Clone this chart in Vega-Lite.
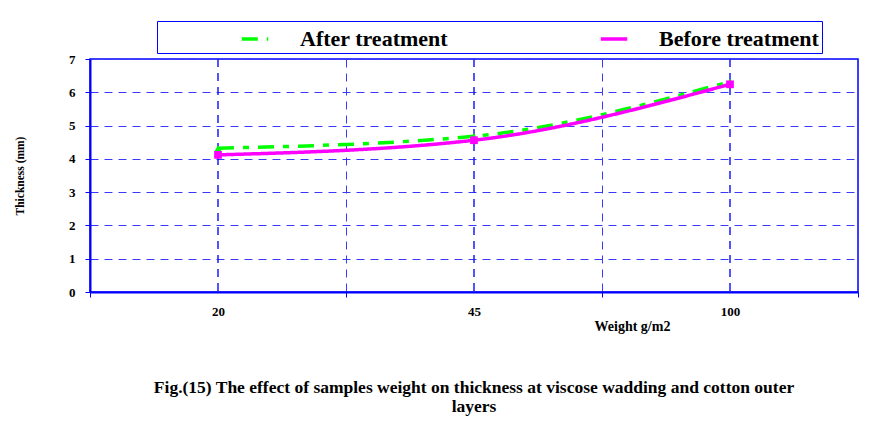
{
  "$schema": "https://vega.github.io/schema/vega-lite/v6.json",
  "width": 768,
  "height": 233,
  "autosize": {"type": "none"},
  "padding": {"left": 90, "top": 59, "right": 25, "bottom": 138},
  "background": "white",
  "title": {
    "text": ["Fig.(15) The effect of samples weight on thickness at viscose wadding and cotton outer", "layers"],
    "orient": "bottom",
    "anchor": "middle",
    "font": "Liberation Serif",
    "fontSize": 17.5,
    "fontWeight": "bold",
    "color": "black",
    "lineHeight": 19,
    "offset": 46
  },
  "data": {
    "values": [
      {"weight": 20, "series": "After treatment", "thickness": 4.32},
      {"weight": 45, "series": "After treatment", "thickness": 4.68},
      {"weight": 100, "series": "After treatment", "thickness": 6.32},
      {"weight": 20, "series": "Before treatment", "thickness": 4.12},
      {"weight": 45, "series": "Before treatment", "thickness": 4.56},
      {"weight": 100, "series": "Before treatment", "thickness": 6.24}
    ]
  },
  "encoding": {
    "x": {
      "field": "weight",
      "type": "ordinal",
      "scale": {"type": "band", "paddingInner": 0, "paddingOuter": 0},
      "axis": {
        "title": "Weight g/m2",
        "titleX": 542,
        "titleY": 27,
        "titleBaseline": "top",
        "titleAlign": "center",
        "tickBand": "extent",
        "labelAngle": 0,
        "labelPadding": 8,
        "grid": true
      }
    },
    "y": {
      "field": "thickness",
      "type": "quantitative",
      "scale": {"domain": [0, 7]},
      "axis": {
        "title": "Thickness (mm)",
        "values": [0, 1, 2, 3, 4, 5, 6, 7],
        "labelOverlap": false,
        "labelFlush": false,
        "titleX": -70,
        "titleY": 116.5,
        "titleAlign": "center",
        "titleBaseline": "middle",
        "grid": true
      }
    }
  },
  "layer": [
    {
      "mark": {"type": "rule", "color": "#1a1aff", "strokeDash": [8, 6], "strokeWidth": 1},
      "encoding": {"y": null}
    },
    {
      "mark": {"type": "line", "interpolate": "monotone", "strokeWidth": 3.5},
      "encoding": {
        "color": {
          "field": "series",
          "type": "nominal",
          "scale": {"domain": ["After treatment", "Before treatment"], "range": ["#00ff00", "#ff00ff"]},
          "legend": {"orient": "none", "legendX": 67, "legendY": -38, "direction": "horizontal", "title": null, "symbolType": "stroke"}
        },
        "strokeDash": {
          "field": "series",
          "type": "nominal",
          "scale": {"domain": ["After treatment", "Before treatment"], "range": [[16, 9, 6, 9], [1, 0]]},
          "legend": {"orient": "none", "legendX": 67, "legendY": -38, "direction": "horizontal", "title": null, "symbolType": "stroke"}
        }
      }
    },
    {
      "transform": [{"filter": "datum.series === 'After treatment'"}],
      "mark": {"type": "point", "shape": "triangle-up", "filled": true, "color": "#00ff00", "size": 45, "opacity": 1}
    },
    {
      "transform": [{"filter": "datum.series === 'Before treatment'"}],
      "mark": {"type": "point", "shape": "square", "filled": true, "color": "#ff00ff", "size": 60, "opacity": 1}
    }
  ],
  "config": {
    "view": {"stroke": "#0000ff", "strokeWidth": 1.5},
    "axis": {
      "labelFont": "Liberation Serif",
      "labelFontWeight": "bold",
      "labelFontSize": 13,
      "labelColor": "black",
      "titleFont": "Liberation Serif",
      "titleFontWeight": "bold",
      "titleColor": "black",
      "domainColor": "#0000ff",
      "domainWidth": 2,
      "tickColor": "#0000ff",
      "tickSize": 5,
      "gridColor": "#3a3aff",
      "gridDash": [8, 6],
      "gridWidth": 1,
      "gridOpacity": 1
    },
    "axisX": {"titleFontSize": 14},
    "axisY": {"titleFontSize": 11.5, "labelPadding": 10},
    "legend": {
      "strokeColor": "#0000ff",
      "padding": 3,
      "labelFont": "Liberation Serif",
      "labelFontWeight": "bold",
      "labelFontSize": 22,
      "labelColor": "black",
      "symbolSize": 700,
      "symbolStrokeWidth": 3.5,
      "symbolOffset": 80,
      "labelOffset": 30,
      "columnPadding": 70
    }
  }
}
